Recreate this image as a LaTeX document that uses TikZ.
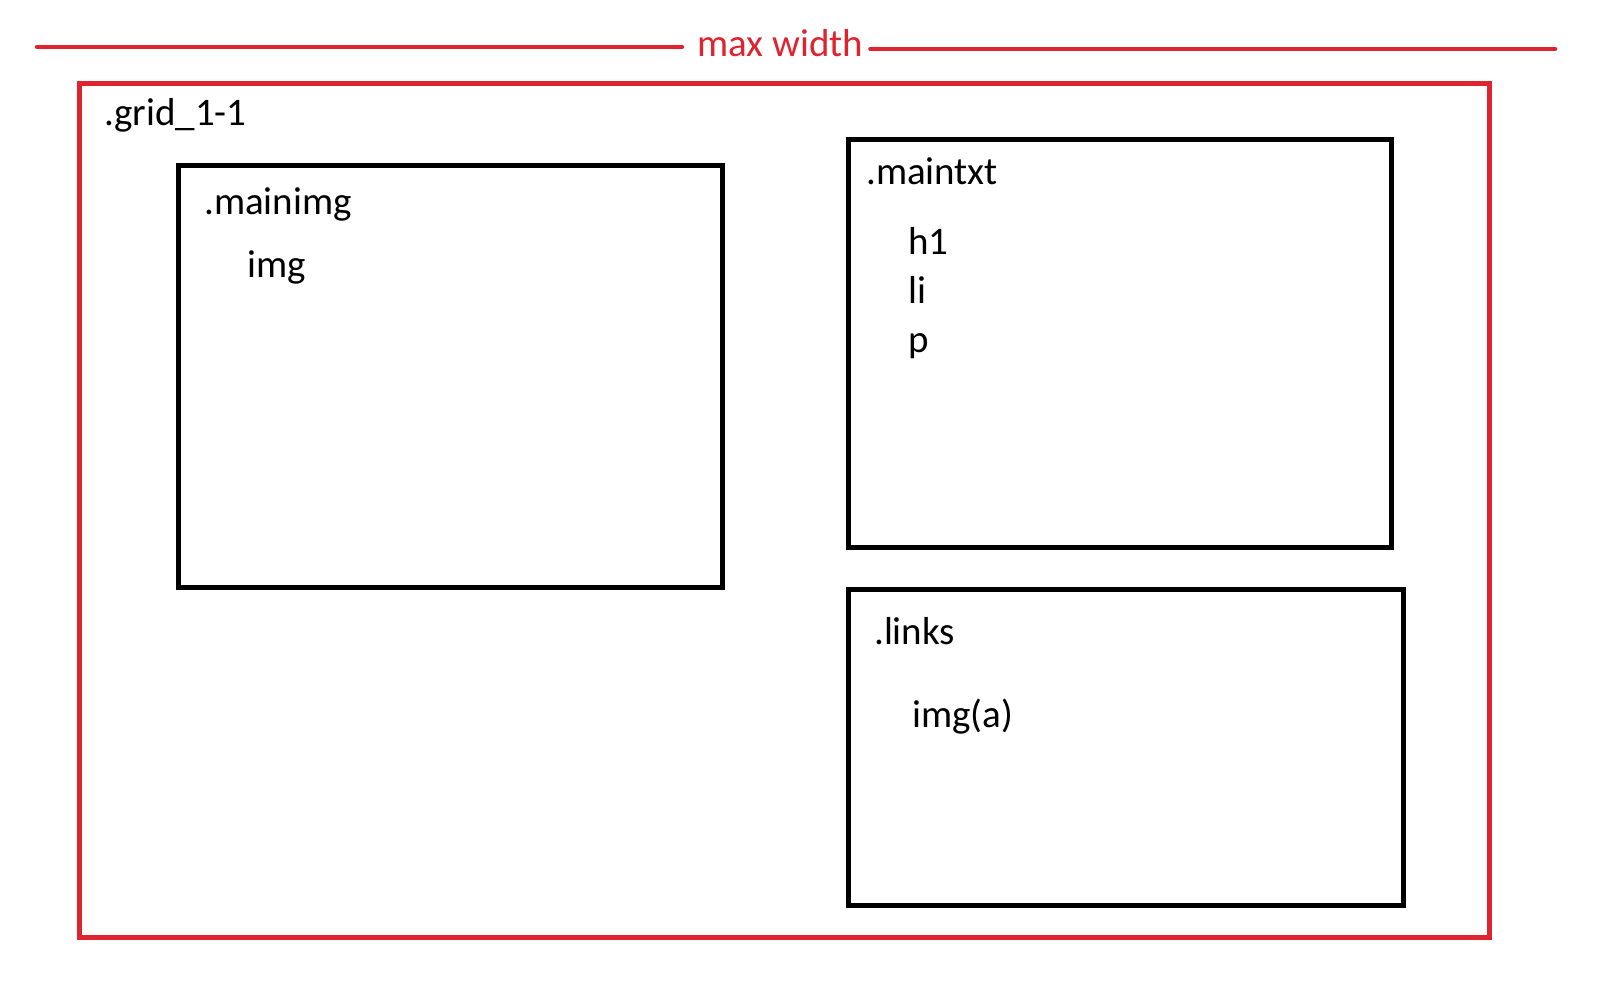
\documentclass[tikz,border=0pt]{standalone}
\usepackage{fontspec}
\setmainfont{Carlito}
\definecolor{redc}{RGB}{222,36,46}
\begin{document}
\begin{tikzpicture}[x=1pt,y=-1pt,
  redline/.style={draw=redc,line width=4.5pt,line cap=round},
  redbox/.style={draw=redc,line width=5pt,inner sep=0pt,outer sep=0pt,anchor=north west},
  blackbox/.style={draw=black,line width=5pt,inner sep=0pt,outer sep=0pt,anchor=north west},
  lbl/.style={inner sep=0pt,anchor=base west,font=\fontsize{39}{47}\selectfont},
  rlbl/.style={lbl,text=redc}]
\useasboundingbox (0,0) rectangle (1610,998);
% title line
\node[rlbl] (title) at (697,57) {max width};
\coordinate (L) at (37,47);
\coordinate (R) at (1555,49);
\draw[redline] (L) -- ([xshift=-15pt]title.west |- L);
\draw[redline] ([xshift=7pt]title.east |- R) -- (R);
% outer red frame
\node[redbox,minimum width=1409.5pt,minimum height=853.5pt] (grid) at (79.5,83.5) {};
\node[lbl] (gridlbl) at (104,125) {.grid\_1-1};
% mainimg
\node[blackbox,minimum width=544pt,minimum height=421.5pt] (mainimg) at (178,165.5) {};
\node[lbl] (mainimglbl) at (204,214) {.mainimg};
\node[lbl] (img) at (247,277) {img};
% maintxt
\node[blackbox,minimum width=543.5pt,minimum height=407.5pt] (maintxt) at (848,139.5) {};
\node[lbl] (maintxtlbl) at (866,184) {.maintxt};
\node[lbl] (h1) at (908,254) {h1};
\node[lbl] (li) at (908,303) {li};
\node[lbl] (p) at (908,352) {p};
% links
\node[blackbox,minimum width=555.5pt,minimum height=315.5pt] (links) at (848,589.5) {};
\node[lbl] (linkslbl) at (874,644) {.links};
\node[lbl] (imga) at (912,727) {img(a)};
\end{tikzpicture}
\end{document}
